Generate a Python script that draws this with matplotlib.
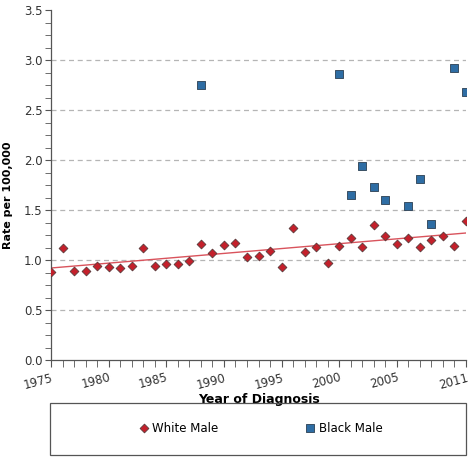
import matplotlib
matplotlib.use('Agg')
import matplotlib.pyplot as plt
from matplotlib.patches import Rectangle
from matplotlib.ticker import MultipleLocator

white_years = list(range(1975, 2012))
white_rates = [0.88, 1.12, 0.89, 0.89, 0.94, 0.93, 0.92, 0.94, 1.12, 0.94,
               0.96, 0.96, 0.99, 1.16, 1.07, 1.15, 1.17, 1.03, 1.04, 1.09,
               0.93, 1.32, 1.08, 1.13, 0.97, 1.14, 1.22, 1.13, 1.35, 1.24,
               1.16, 1.22, 1.13, 1.20, 1.24, 1.14, 1.39]

black_years = [1988, 2000, 2001, 2002, 2003, 2004, 2006, 2007, 2008, 2010, 2011]
black_rates = [2.75, 2.86, 1.65, 1.94, 1.73, 1.60, 1.54, 1.81, 1.36, 2.92, 2.68]

trend_years = [1975, 2011]
trend_rates = [0.92, 1.27]

x_tick_years = [1975, 1980, 1985, 1990, 1995, 2000, 2005, 2011]

red = '#c4202b'
blue = '#2e6da4'

fig = plt.figure(figsize=(4.72, 4.57), dpi=100)
ax = fig.add_axes([51 / 472, 97 / 457, 415 / 472, 350 / 457])

ax.plot(trend_years, trend_rates, color='#d9535c', lw=1.0, zorder=2)
ax.scatter(white_years, white_rates, marker='D', s=20, color=red,
           edgecolors='#5a3a3a', linewidths=0.6, zorder=3, label='White Male')
ax.scatter(black_years, black_rates, marker='s', s=28, color=blue,
           edgecolors='#2b3f52', linewidths=0.6, zorder=3, label='Black Male')

ax.set_xlim(1975, 2011)
ax.set_ylim(0, 3.5)
ax.set_xticks(x_tick_years)
ax.set_xticklabels([str(y) for y in x_tick_years], rotation=15, ha='right',
                   rotation_mode='anchor', color='#333333', fontsize=8.5)
ax.xaxis.set_minor_locator(MultipleLocator(1))
ax.yaxis.set_major_locator(MultipleLocator(0.5))
ax.yaxis.set_minor_locator(MultipleLocator(0.125))
ax.tick_params(axis='y', labelsize=8.5, labelcolor='#333333', length=4,
               color='#555555', pad=2)
ax.tick_params(axis='y', which='minor', length=4, color='#555555')
ax.tick_params(axis='x', which='both', length=5, color='#555555', pad=3)
ax.set_yticklabels(['%.1f' % v for v in ax.get_yticks()])

for v in [0.5, 1.0, 1.5, 2.0, 2.5, 3.0]:
    ax.axhline(v, color='#b5b5b5', lw=0.9, ls=(0, (4, 3)), zorder=1)

for s in ['top', 'right']:
    ax.spines[s].set_visible(False)
for s in ['left', 'bottom']:
    ax.spines[s].set_color('#555555')
    ax.spines[s].set_linewidth(0.9)

ax.set_xlabel('Year of Diagnosis', fontsize=9, fontweight='bold', labelpad=1)
ax.set_ylabel('Rate per 100,000', fontsize=8, fontweight='bold', va='center')
ax.yaxis.set_label_coords(-43 / 415, 0.47)

fig.patches.append(Rectangle((50 / 472, 2 / 457), 416 / 472, 52 / 457,
                             transform=fig.transFigure, fill=False,
                             edgecolor='#555555', lw=0.9))
fig.legend(loc='center', bbox_to_anchor=(260 / 472, 29 / 457), ncol=2,
           frameon=False, fontsize=8.5, columnspacing=7.3, handletextpad=0.2,
           handlelength=1.0)

fig.savefig('out.png', dpi=100)
